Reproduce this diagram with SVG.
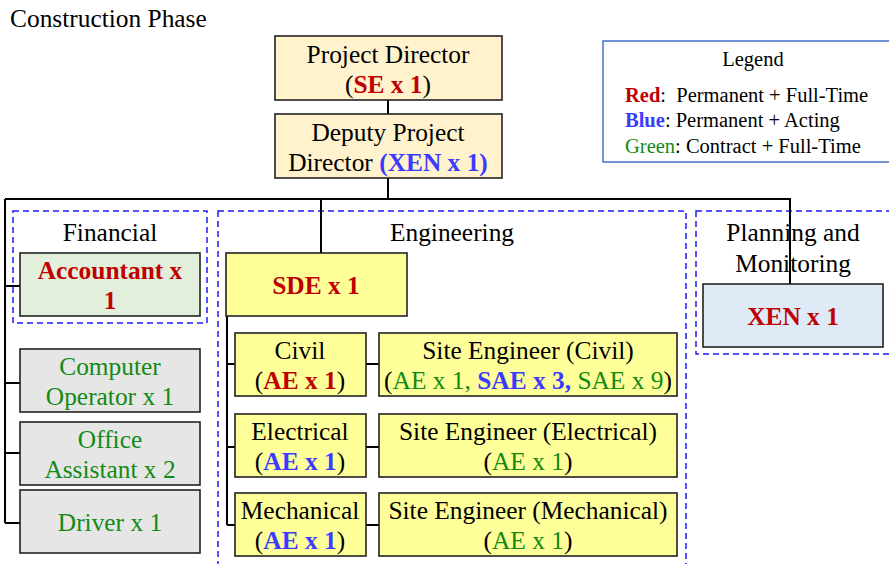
<svg xmlns="http://www.w3.org/2000/svg" width="889" height="564" viewBox="0 0 889 564" font-family="'Liberation Serif', 'Times New Roman', Times, serif">
<style>
text{font-family:'Liberation Serif','Times New Roman',Times,serif;font-size:25.4px;fill:#000;text-anchor:middle}
.b{font-weight:bold}
.r{fill:#C00000}
.bl{fill:#3B3BFF}
.g{fill:#138A13}
.box{stroke:#222;stroke-width:1.6}
.tan{fill:#FFF2CC}
.yel{fill:#FFFF99}
.grn{fill:#E2EFDA}
.gry{fill:#E6E6E6}
.lbl{fill:#DEEBF7}
.grp{fill:none;stroke:#1A1AFF;stroke-width:1.5;stroke-dasharray:6 4}
.con{fill:none;stroke:#000;stroke-width:2}
.lg text{font-size:20.5px;text-anchor:start;white-space:pre}
</style>
<text x="10" y="27" style="text-anchor:start">Construction Phase</text>

<g id="groups">
<rect id="grp-financial" class="grp" x="13" y="211" width="194" height="112"/>
<rect id="grp-engineering" class="grp" x="218" y="211" width="468" height="370"/>
<rect id="grp-planning" class="grp" x="696" y="211" width="200" height="143"/>
<text x="110" y="241">Financial</text>
<text x="452" y="241">Engineering</text>
<text x="793" y="241">Planning and</text>
<text x="793" y="272">Monitoring</text>
</g>

<g id="connectors">
<path class="con" d="M388 100V114M388 178V199M5 199H790V284M321 199V253M5 199V523M5 286H20M5 383H20M5 453H20M5 523H20M227 316V525M227 364H235M227 447H235M227 525H235M366 364H379M366 447H379M366 525H379"/>
</g>

<g id="project-director">
<rect class="box tan" x="275" y="36" width="227" height="64"/>
<text x="388" y="63">Project Director</text>
<text x="388" y="93">(<tspan class="b r">SE x 1</tspan>)</text>
</g>
<g id="deputy-director">
<rect class="box tan" x="275" y="114" width="227" height="64"/>
<text x="388" y="141">Deputy Project</text>
<text x="388" y="171">Director <tspan class="b bl">(XEN x 1)</tspan></text>
</g>

<g id="accountant">
<rect class="box grn" x="20" y="253" width="180" height="63"/>
<text class="b r" x="110" y="279">Accountant x</text>
<text class="b r" x="110" y="309">1</text>
</g>
<g id="computer-operator">
<rect class="box gry" x="20" y="349" width="180" height="63"/>
<text class="g" x="110" y="375">Computer</text>
<text class="g" x="110" y="405">Operator x 1</text>
</g>
<g id="office-assistant">
<rect class="box gry" x="20" y="422" width="180" height="63"/>
<text class="g" x="110" y="448">Office</text>
<text class="g" x="110" y="478">Assistant x 2</text>
</g>
<g id="driver">
<rect class="box gry" x="20" y="490" width="180" height="63"/>
<text class="g" x="110" y="531">Driver x 1</text>
</g>

<g id="sde">
<rect class="box yel" x="226" y="253" width="181" height="63"/>
<text class="b r" x="316" y="294">SDE x 1</text>
</g>
<g id="civil">
<rect class="box yel" x="235" y="333" width="131" height="63"/>
<text x="300" y="359">Civil</text>
<text x="300" y="389">(<tspan class="b r">AE x 1</tspan>)</text>
</g>
<g id="site-civil">
<rect class="box yel" x="379" y="333" width="298" height="63"/>
<text x="528" y="359">Site Engineer (Civil)</text>
<text x="528" y="389">(<tspan class="g">AE x 1, </tspan><tspan class="b bl">SAE x 3, </tspan><tspan class="g">SAE x 9</tspan>)</text>
</g>
<g id="electrical">
<rect class="box yel" x="235" y="414" width="131" height="63"/>
<text x="300" y="440">Electrical</text>
<text x="300" y="470">(<tspan class="b bl">AE x 1</tspan>)</text>
</g>
<g id="site-electrical">
<rect class="box yel" x="379" y="414" width="298" height="63"/>
<text x="528" y="440">Site Engineer (Electrical)</text>
<text x="528" y="470">(<tspan class="g">AE x 1</tspan>)</text>
</g>
<g id="mechanical">
<rect class="box yel" x="235" y="493" width="131" height="63"/>
<text x="300" y="519">Mechanical</text>
<text x="300" y="549">(<tspan class="b bl">AE x 1</tspan>)</text>
</g>
<g id="site-mechanical">
<rect class="box yel" x="379" y="493" width="298" height="63"/>
<text x="528" y="519">Site Engineer (Mechanical)</text>
<text x="528" y="549">(<tspan class="g">AE x 1</tspan>)</text>
</g>

<g id="xen">
<rect class="box lbl" x="703" y="284" width="180" height="63"/>
<text class="b r" x="793" y="325">XEN x 1</text>
</g>

<g id="legend" class="lg">
<rect x="603" y="41" width="296" height="121" fill="#fff" stroke="#4472C4" stroke-width="1.5"/>
<text x="753" y="66" style="text-anchor:middle">Legend</text>
<text x="625" y="102"><tspan class="b r">Red</tspan>:  Permanent + Full-Time</text>
<text x="625" y="127"><tspan class="b bl">Blue</tspan>: Permanent + Acting</text>
<text x="625" y="153"><tspan class="g">Green</tspan>: Contract + Full-Time</text>
</g>
</svg>
